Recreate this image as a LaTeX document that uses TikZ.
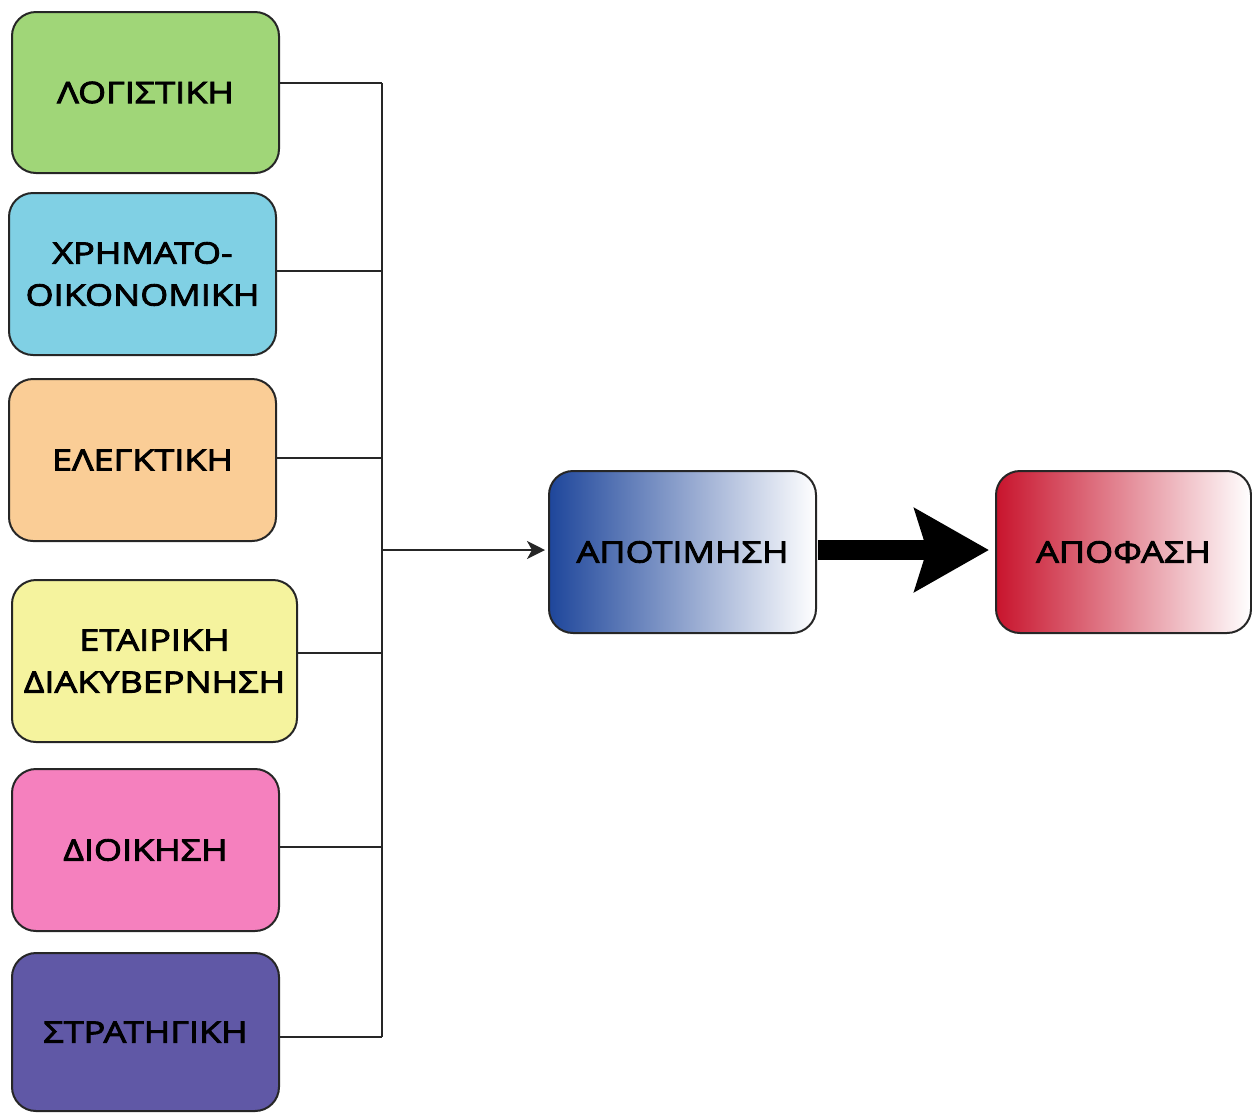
\documentclass[tikz,border=0pt]{standalone}
\usepackage{fontspec}
\setmainfont{Open Sans}
\newfontfamily\lblfont[FakeStretch=1.22, FakeBold=3]{Open Sans}
\usetikzlibrary{arrows.meta}
\definecolor{cgreen}{HTML}{A0D678}
\definecolor{cblue}{HTML}{80D0E4}
\definecolor{corange}{HTML}{FACD96}
\definecolor{cyellow}{HTML}{F5F39E}
\definecolor{cpink}{HTML}{F580BE}
\definecolor{cpurple}{HTML}{6058A6}
\definecolor{gblue}{HTML}{1E469B}
\definecolor{gred}{HTML}{C8142D}
\tikzset{
  box/.style={draw=black!85, line width=2pt, rounded corners=24pt, minimum width=267pt, minimum height=162pt, align=center, inner sep=0pt, font=\lblfont\fontsize{29.5}{42}\selectfont, text=black},
  conn/.style={draw=black!85, line width=2pt},
}
\begin{document}
\begin{tikzpicture}[x=1pt,y=-1pt]
\useasboundingbox (0,0) rectangle (1252,1112);
\node[box, fill=cgreen, minimum height=161pt] (b1) at (145.5,92.5) {ΛΟΓΙΣΤΙΚΗ};
\node[box, fill=cblue] (b2) at (142.5,274) {ΧΡΗΜΑΤΟ-\\ΟΙΚΟΝΟΜΙΚΗ};
\node[box, fill=corange] (b3) at (142.5,460) {ΕΛΕΓΚΤΙΚΗ};
\node[box, fill=cyellow, minimum width=285pt] (b4) at (154.5,661) {ΕΤΑΙΡΙΚΗ\\ΔΙΑΚΥΒΕΡΝΗΣΗ};
\node[box, fill=cpink] (b5) at (145.5,850) {ΔΙΟΙΚΗΣΗ};
\node[box, fill=cpurple, minimum height=158pt] (b6) at (145.5,1032) {ΣΤΡΑΤΗΓΙΚΗ};
\node[box, left color=gblue, right color=white] (apo) at (682.5,552) {ΑΠΟΤΙΜΗΣΗ};
\node[box, left color=gred, right color=white, minimum width=255pt] (dec) at (1123.5,552) {ΑΠΟΦΑΣΗ};
\coordinate (j1) at (382,83);
\coordinate (j2) at (382,271);
\coordinate (j3) at (382,458);
\coordinate (j4) at (382,653);
\coordinate (j5) at (382,847);
\coordinate (j6) at (382,1037);
\coordinate (jm) at (382,550);
\draw[conn] (b1.east|-j1) -- (j1);
\draw[conn] (b2.east|-j2) -- (j2);
\draw[conn] (b3.east|-j3) -- (j3);
\draw[conn] (b4.east|-j4) -- (j4);
\draw[conn] (b5.east|-j5) -- (j5);
\draw[conn] (b6.east|-j6) -- (j6);
\draw[conn] (j1) -- (j6);
\draw[conn, -{Stealth[length=18pt, width=18pt, inset=5pt]}] (jm) -- ([xshift=-3pt]apo.west|-jm);
\draw[line width=20pt, -{Stealth[length=74pt, width=82pt, inset=12pt]}] ([xshift=1pt]apo.east|-jm) -- ([xshift=-6pt]dec.west|-jm);
\end{tikzpicture}
\end{document}
